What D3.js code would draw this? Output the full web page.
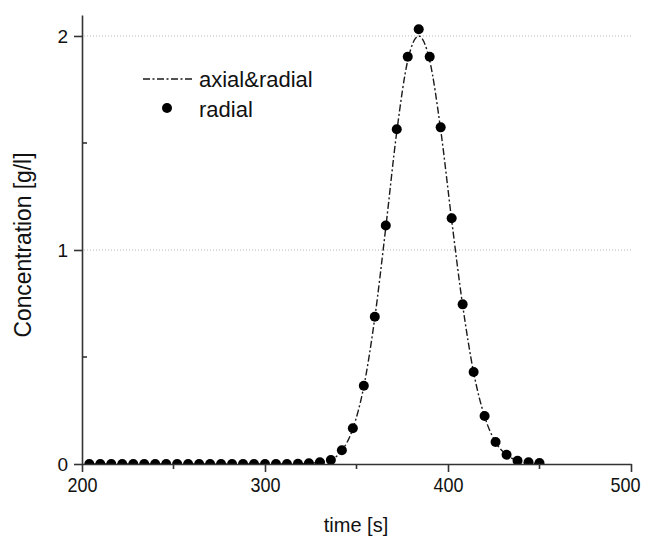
<!DOCTYPE html>
<meta charset="utf-8">
<style>
    body { margin: 0; background: #fff; }
    svg text {
        font-family: "Liberation Sans", Arial, sans-serif;
        fill: #111;
    }
    .axis path, .axis line { stroke: #333; stroke-width: 1.6px; }
</style>
<svg width="646" height="536"></svg>
<script src="https://cdnjs.cloudflare.com/ajax/libs/d3/7.8.5/d3.min.js"></script>
<script>

    // sample times [s]
    var times = [204, 210, 216, 222, 228, 234, 240, 246, 252, 258, 264, 270, 276, 282,
        288, 294, 300, 306, 312, 318, 324, 330, 336, 342, 348, 354, 360, 366,
        372, 378, 384, 390, 396, 402, 408, 414, 420, 426, 432, 438, 444, 450];

    // radial model (points)
    var radial = [0, 0, 0, 0, 0, 0, 0, 0, 0, 0, 0, 0, 0, 0,
        0, 0, 0, 0, 0, 0.001, 0.003, 0.008, 0.019, 0.064, 0.167, 0.366, 0.688, 1.114,
        1.564, 1.903, 2.031, 1.903, 1.573, 1.148, 0.746, 0.430, 0.224, 0.103, 0.043, 0.015, 0.008, 0.005];

    // axial & radial model (dash-dot line)
    var axialRadial = [0, 0, 0, 0, 0, 0, 0, 0, 0, 0, 0, 0, 0, 0,
        0, 0, 0, 0, 0, 0.001, 0.003, 0.008, 0.020, 0.062, 0.165, 0.362, 0.683, 1.105,
        1.552, 1.885, 2.000, 1.885, 1.562, 1.140, 0.742, 0.428, 0.222, 0.102, 0.043, 0.015, 0.006, 0.002];

    var xTicks = [200, 300, 400, 500],
        xMinor = [250, 350, 450],
        yTicks = [0, 1, 2],
        yMinor = [0.5, 1.5];

    var svg = d3.select("svg"),
        plotLeft = 82, plotRight = 631, plotTop = 15, plotBottom = 464;

    var x = d3.scaleLinear().domain([200, 500]).range([plotLeft, plotRight]);
    var y = d3.scaleLinear().domain([0, 2.098]).range([plotBottom, plotTop]);

    svg.append("defs").append("clipPath").attr("id", "plot")
        .append("rect")
        .attr("x", plotLeft).attr("y", plotTop)
        .attr("width", plotRight - plotLeft).attr("height", plotBottom - plotTop);

    // dotted grid at the major y ticks
    svg.append("g").selectAll("line")
        .data(yTicks.filter(function (d) { return d > 0; }))
        .enter().append("line")
        .attr("x1", plotLeft + 2).attr("x2", plotRight)
        .attr("y1", function (d) { return y(d); })
        .attr("y2", function (d) { return y(d); })
        .attr("stroke", "#b8b8b8")
        .attr("stroke-width", 1)
        .attr("stroke-dasharray", "1,2");

    var rows = times.map(function (t, i) {
        return {t: t, r: radial[i], a: axialRadial[i]};
    });

    var plot = svg.append("g").attr("clip-path", "url(#plot)");

    var line = d3.line()
        .curve(d3.curveMonotoneX)
        .x(function (d) { return x(d.t); })
        .y(function (d) { return y(d.a); });

    plot.append("path")
        .datum(rows)
        .attr("d", line)
        .attr("fill", "none")
        .attr("stroke", "#1a1a1a")
        .attr("stroke-width", 1.4)
        .attr("stroke-dasharray", "7,2.5,2,2.5");

    plot.selectAll("circle")
        .data(rows)
        .enter().append("circle")
        .attr("cx", function (d) { return x(d.t); })
        .attr("cy", function (d) { return y(d.r); })
        .attr("r", 5)
        .attr("fill", "#000");

    // axes
    var xAxis = svg.append("g")
        .attr("class", "axis")
        .attr("transform", "translate(0," + plotBottom + ")")
        .call(d3.axisBottom(x).tickValues(xTicks).tickSize(8).tickPadding(5).tickSizeOuter(0));
    xAxis.append("g").selectAll("line")
        .data(xMinor)
        .enter().append("line")
        .attr("x1", function (d) { return x(d); })
        .attr("x2", function (d) { return x(d); })
        .attr("y1", 0).attr("y2", 5);
    xAxis.selectAll(".tick text")
        .style("font-size", "21px")
        .attr("textLength", 30)
        .attr("lengthAdjust", "spacingAndGlyphs")
        .attr("dx", function (d) { return d === 500 ? -6 : 0; });

    var yAxis = svg.append("g")
        .attr("class", "axis")
        .attr("transform", "translate(" + plotLeft + ",0)")
        .call(d3.axisLeft(y).tickValues(yTicks).tickFormat(d3.format("d"))
            .tickSize(8).tickPadding(6).tickSizeOuter(0));
    yAxis.append("g").selectAll("line")
        .data(yMinor)
        .enter().append("line")
        .attr("x1", 0).attr("x2", 5)
        .attr("y1", function (d) { return y(d); })
        .attr("y2", function (d) { return y(d); });
    yAxis.selectAll(".tick text")
        .style("font-size", "19px")
        .attr("dy", "0.34em");

    svg.selectAll(".axis text").attr("fill", "#111");

    // axis titles
    svg.append("text")
        .attr("x", 356)
        .attr("y", 532)
        .attr("text-anchor", "middle")
        .style("font-size", "20px")
        .text("time [s]");

    svg.append("text")
        .attr("transform", "translate(31,245) rotate(-90)")
        .attr("text-anchor", "middle")
        .style("font-size", "23px")
        .attr("textLength", 185)
        .attr("lengthAdjust", "spacingAndGlyphs")
        .text("Concentration [g/l]");

    // legend
    var legend = svg.append("g");
    legend.append("line")
        .attr("x1", 143).attr("x2", 192)
        .attr("y1", 79).attr("y2", 79)
        .attr("stroke", "#1a1a1a")
        .attr("stroke-width", 1.4)
        .attr("stroke-dasharray", "7,2.5,2,2.5");
    legend.append("circle")
        .attr("cx", 167).attr("cy", 108)
        .attr("r", 5)
        .attr("fill", "#000");
    legend.append("text")
        .attr("x", 199).attr("y", 87)
        .style("font-size", "22px")
        .text("axial&radial");
    legend.append("text")
        .attr("x", 199).attr("y", 117)
        .style("font-size", "22px")
        .text("radial");
</script>
